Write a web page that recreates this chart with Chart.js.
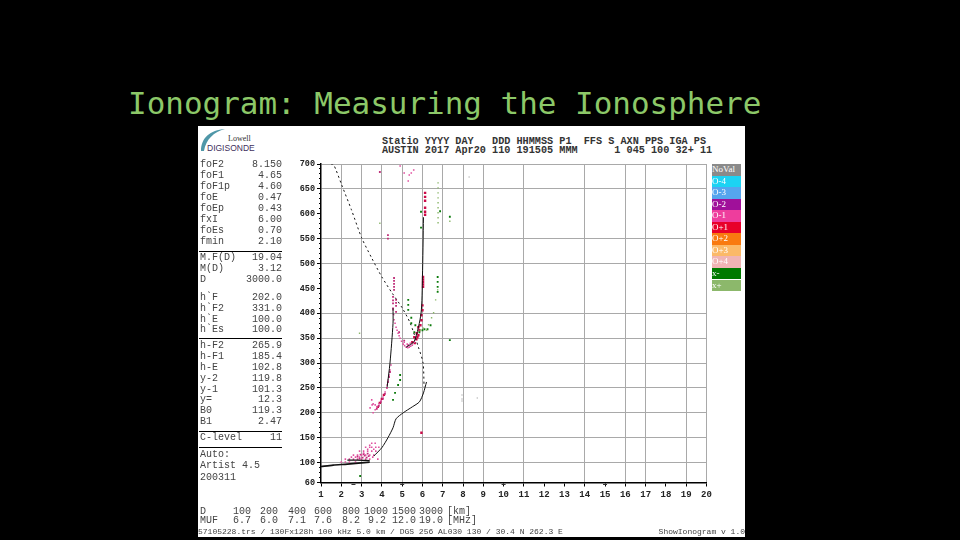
<!DOCTYPE html>
<html>
<head>
<meta charset="utf-8">
<script src="https://cdn.jsdelivr.net/npm/chart.js@4/dist/chart.umd.min.js"></script>
<style>
  html, body { margin: 0; background: #000; overflow: hidden; }
  #stage { position: relative; width: 960px; height: 540px; }
  #stage div, #stage pre { position: absolute; margin: 0; white-space: pre; }
  #title { left: 128px; top: 85px; font: 30.95px "DejaVu Sans Mono", monospace; color: #8cc868; }
  #panel { left: 198px; top: 126px; width: 547px; height: 411px; background: #fff; }
  #plot { position: absolute; left: 0; top: 0; }
  .t { font: 10px "Liberation Mono", monospace; color: #444; line-height: 10px; }
  .f { font: 8px "Liberation Mono", monospace; color: #444; line-height: 8px; }
  .rule { left: 199px; width: 83px; height: 1px; background: #000; }
  #head { left: 382px; top: 138px; font: 10.2px/8.5px "Liberation Mono", monospace; font-weight: bold; color: #333; }
  .lg { left: 712px; width: 29px; height: 11.5px; color: #fff; font: 9px/11.5px "Liberation Serif", serif; }
</style>
</head>
<body>
<div id="stage">
  <div id="title">Ionogram: Measuring the Ionosphere</div>
  <div id="panel"></div>
  <svg style="position:absolute;left:198px;top:126px" width="60" height="30">
    <path d="M3 25 C3 12 12 4 27 3 C16 6 8 13 6 25 Z" fill="#4f97a8"/>
  </svg>
  <div style="left:228px;top:134px;font:8px 'Liberation Serif',serif;color:#333">Lowell</div>
  <div style="left:207px;top:143px;font:8.5px 'Liberation Sans',sans-serif;color:#3f2f5c">DIGISONDE</div>
  <pre id="head">Statio YYYY DAY   DDD HHMMSS P1  FFS S AXN PPS IGA PS
AUSTIN 2017 Apr20 110 191505 MMM      1 045 100 32+ 11</pre>
  <canvas id="plot" width="960" height="540"></canvas>
</div>
<script>
const xTicks = [1, 2, 3, 4, 5, 6, 7, 8, 9, 10, 11, 12, 13, 14, 15, 16, 17, 18, 19, 20];
const xGrid = [2, 3, 4, 5, 6, 7, 8, 9, 11, 14, 16, 17, 19, 20];
const yTicks = [60, 100, 150, 200, 250, 300, 350, 400, 450, 500, 550, 600, 650, 700];
const yGrid = [100, 150, 200, 250, 300, 350, 400, 500, 550, 650, 700];
const yMinor = [70, 80, 90, 110, 120, 130, 140, 160, 170, 180, 190, 210, 220, 230, 240, 260, 270, 280, 290, 310, 320, 330, 340, 360, 370, 380, 390, 410, 420, 430, 440, 460, 470, 480, 490, 510, 520, 530, 540, 560, 570, 580, 590, 610, 620, 630, 640, 660, 670, 680, 690];

// traces as [MHz, km]
const oTraceModel = [[1.5, 700], [1.6, 700], [1.74, 688], [2.02, 658], [2.5, 608], [3, 552], [3.5, 511], [4, 473], [4.5, 441], [5, 411], [5.4, 380], [5.8, 332], [6.03, 300], [6.08, 252]];
const eLower = [[1, 92], [1.6, 95], [2.3, 97], [3.4, 101]];
const eUpper = [[2.3, 105], [2.8, 105], [3.4, 104]];
const f1Trace = [[3.6, 113], [4, 130], [4.3, 150], [4.55, 170], [4.7, 188], [5.05, 200], [5.5, 212], [5.85, 222], [6.05, 240], [6.2, 262]];
const f2Rise = [[4.26, 252], [4.4, 300], [4.55, 380], [4.55, 410]];
const f2Cusp = [[5.2, 332], [5.6, 344], [5.93, 400], [6, 473], [6.05, 593]];

const oMinus1 = [
  [4.55, 407], [4.58, 397], [4.6, 387], [4.65, 380], [4.7, 372], [4.75, 366], [4.8, 360], [4.85, 355], [4.9, 350], [4.97, 344], [5.05, 338], [5.12, 335], [5.2, 332], [5.28, 331], [5.35, 332], [5.42, 334], [5.5, 336], [5.6, 342], [5.25, 338], [5.4, 340], [5.1, 342],
  [3.57, 200], [3.67, 206], [3.76, 212], [3.86, 218], [3.96, 224], [4.06, 232], [4.16, 242], [4.26, 256], [4.31, 266], [4.36, 276], [4.4, 286], [4.45, 296],
  [3.42, 210], [3.52, 216], [3.57, 218], [3.67, 216], [3.5, 226],
  [3.5, 139], [3.67, 139],
  [3.2, 131], [3.4, 131], [3.5, 131], [3.7, 131], [3.85, 131],
  [2.9, 123], [3.1, 123], [3.3, 123], [3.5, 123], [3.7, 123],
  [2.6, 115], [2.8, 115], [3, 115], [3.2, 115], [3.4, 115], [3.6, 115],
  [2.2, 107], [2.4, 107], [2.6, 107], [2.8, 107], [3, 107], [3.2, 107], [3.4, 107], [3.8, 107],
  [2, 101], [2.2, 101], [2.4, 101], [2.7, 101], [3.6, 127], [3.4, 135], [2.5, 111], [2.7, 111], [2.9, 111], [3.1, 119], [3.3, 127], [3.55, 111],
  [5.57, 688], [5.45, 682], [5.35, 678], [5.1, 682], [5.3, 666], [4.9, 696]
];
const oMinus2 = [
  [2.8, 112], [2.95, 116], [3.05, 110], [3.15, 114], [3.3, 118], [3.25, 110], [2.9, 108], [3.1, 117], [3.35, 113],
  [4.6, 471], [4.6, 465], [4.6, 459], [4.6, 453], [4.6, 447], [4.55, 433], [4.55, 426], [4.55, 420], [4.55, 410], [4.7, 427], [4.7, 421], [4.7, 415], [4.7, 403],
  [3.9, 684], [4.3, 557], [4.3, 550], [3.75, 208], [3.85, 214], [3.95, 222], [4.05, 228], [4.15, 238], [4.25, 250], [4.3, 262], [4.35, 272], [4.4, 282],
  [4.85, 362], [5.1, 345], [5.3, 336]
];
const oPlus1 = [
  [5.62, 340], [5.7, 348], [5.75, 352], [5.8, 356], [5.85, 366], [5.9, 376], [5.95, 386], [5.95, 396], [6, 406], [6, 416], [5.5, 342], [5.6, 352], [5.72, 360], [5.8, 372],
  [3.8, 212], [3.9, 220], [4, 228], [4.1, 236],
  [6.13, 642], [6.13, 634], [6.13, 626], [6.13, 612], [6.13, 604], [6.13, 598],
  [6.03, 473], [6.03, 468], [6.03, 463], [6.03, 458], [6.03, 453], [5.95, 160]
];
const xMinus = [
  [5.3, 427], [5.3, 417], [5.3, 407], [5.45, 391], [5.45, 380], [5.6, 362], [5.65, 376], [5.85, 362], [6, 366], [6.1, 368], [6.25, 368], [6.4, 376],
  [6.75, 473], [6.75, 463], [6.75, 453], [6.75, 443], [4.9, 276], [4.9, 266], [4.8, 256], [4.65, 240], [4.55, 226], [7.35, 346], [7.35, 594], [5.93, 604], [5.93, 572], [6.87, 605], [2.93, 73]
];
const xPlus = [
  [5.9, 366], [6.05, 370], [6.2, 366], [6.3, 377], [6.45, 391], [6.55, 401], [6.65, 427], [6.75, 447],
  [6.77, 662], [6.77, 652], [6.77, 642], [6.77, 632], [6.77, 622], [6.77, 612], [6.77, 602], [6.77, 592], [6.77, 582], [7.35, 585], [3.9, 581], [2.9, 360]
];
const noVal = [[8.3, 674], [7.95, 236], [7.95, 228], [7.95, 224], [8.7, 230]];
const belowAxis = [[2.6, 56], [5, 56], [10, 56], [15, 56]];

const legendLabels = ['NoVal', 'O-4', 'O-3', 'O-2', 'O-1', 'O+1', 'O+2', 'O+3', 'O+4', 'x-', 'x+'];
const legendColors = ['#8a8a8a', '#1cd3f3', '#55a5ee', '#a0109a', '#ee3d9d', '#e8002a', '#f97a10', '#fbb968', '#f0b4b4', '#007a00', '#8cb86b'];

const scaledNames = ['foF2', 'foF1', 'foF1p', 'foE', 'foEp', 'fxI', 'foEs', 'fmin', 'M.F(D)', 'M(D)', 'D', "h`F", "h`F2", "h`E", "h`Es", 'h-F2', 'h-F1', 'h-E', 'y-2', 'y-1', 'y=', 'B0', 'B1', 'C-level'];
const scaledValues = ['8.150', '4.65', '4.60', '0.47', '0.43', '6.00', '0.70', '2.10', '19.04', '3.12', '3000.0', '202.0', '331.0', '100.0', '100.0', '265.9', '185.4', '102.8', '119.8', '101.3', '12.3', '119.3', '2.47', '11'];
const scaledRows = [165, 176, 187, 198, 209, 220, 231, 242, 258, 269, 280, 298, 309, 320, 330, 346, 357, 368, 379, 390, 400, 411, 422, 438];

const dKm = ['100', '200', '400', '600', '800', '1000', '1500', '3000', '[km]'];
const mufMHz = ['6.7', '6.0', '7.1', '7.6', '8.2', '9.2', '12.0', '19.0', '[MHz]'];
const dColumns = [233, 260, 288, 314, 342, 364, 392, 419, 447];
const mufColumns = [233, 260, 288, 314, 342, 368, 392, 419, 447];

const stage = document.getElementById('stage');
function addText(cls, text, left, top, right) {
  const el = document.createElement('div');
  el.className = cls;
  el.textContent = text;
  if (right) el.style.right = (960 - right) + 'px'; else el.style.left = left + 'px';
  el.style.top = top + 'px';
  stage.appendChild(el);
  return el;
}

scaledNames.forEach((n, i) => {
  addText('t', n, 200, scaledRows[i] - 5);
  addText('t', scaledValues[i], 0, scaledRows[i] - 5, 282);
});
['Auto:', 'Artist 4.5', '200311'].forEach((s, i) => addText('t', s, 200, [455, 466, 478][i] - 5));
[251, 338, 431, 447].forEach(y => addText('rule', '', 199, y));
addText('t', 'D', 200, 507);
addText('t', 'MUF', 200, 516);
dKm.forEach((s, i) => addText('t', s, dColumns[i], 507));
mufMHz.forEach((s, i) => addText('t', s, mufColumns[i], 516));
addText('f', '57105228.trs / 130Fx128h 100 kHz 5.0 km / DGS 256 AL030 130 / 30.4 N 262.3 E', 198, 528);
addText('f', 'ShowIonogram v 1.0', 0, 528, 745);

legendLabels.forEach((s, i) => {
  const el = addText('lg', s, 712, 164 + i * 11.55);
  el.style.background = legendColors[i];
});

const pts = a => a.map(([x, y]) => ({ x, y }));
const line = (data, width, dash) => ({ data: pts(data), showLine: true, pointRadius: 0, borderColor: '#111', borderWidth: width, borderDash: dash || [], tension: 0.25 });
const dots = (data, color, r) => ({ data: pts(data), showLine: false, pointStyle: 'rect', pointRadius: r, pointBorderWidth: 0, backgroundColor: color });

new Chart(document.getElementById('plot'), {
  type: 'scatter',
  data: {
    datasets: [
      dots(xPlus, '#8cb86b', 1),
      dots(xMinus, '#0a7a0a', 1.3),
      dots(noVal, '#8a8a8a', 0.7),
      line(oTraceModel, 1, [2, 3]),
      line(eLower, 1.6),
      line(eUpper, 1.2),
      line(f1Trace, 1),
      line(f2Rise, 1),
      line(f2Cusp, 1),
      dots(oMinus1, '#e0509f', 1.1),
      dots(oMinus2, '#c0307a', 1.3),
      dots(oPlus1, '#cc0a48', 1.7),
      { data: pts(belowAxis), showLine: false, pointStyle: 'line', pointRadius: 2, borderColor: '#333', borderWidth: 1, clip: false }
    ]
  },
  options: {
    responsive: false,
    animation: false,
    layout: { padding: { top: 164, right: 253.5, bottom: 0, left: 0 } },
    plugins: { legend: { display: false }, tooltip: { enabled: false } },
    scales: {
      x: {
        type: 'linear', min: 1, max: 20,
        afterBuildTicks: s => { s.ticks = xTicks.map(value => ({ value })); },
        afterFit: s => { s.height = 57.5; },
        border: { color: '#000', width: 1.5 },
        grid: {
          color: c => xGrid.includes(c.tick.value) ? '#a9a9a9' : 'transparent',
          tickColor: '#000', tickLength: 4
        },
        ticks: { color: '#222', font: { family: 'Liberation Mono', weight: 'bold', size: 9 }, padding: 3, maxRotation: 0, autoSkip: false }
      },
      y: {
        type: 'linear', min: 60, max: 700,
        afterBuildTicks: s => { s.ticks = yTicks.map(value => ({ value })); },
        afterFit: s => { s.width = 321; },
        border: { color: '#000', width: 1.5 },
        grid: {
          color: c => yGrid.includes(c.tick.value) ? '#a9a9a9' : 'transparent',
          tickColor: '#000', tickLength: 4
        },
        ticks: { color: '#222', font: { family: 'Liberation Mono', weight: 'bold', size: 8.5 }, padding: 2, autoSkip: false }
      },
      // short 10 km marks between the labelled heights, weight keeps it next to the plot
      yMinorMarks: {
        type: 'linear', position: 'left', min: 60, max: 700, weight: -1,
        afterBuildTicks: s => { s.ticks = yMinor.map(value => ({ value })); },
        afterFit: s => { s.width = 0; },
        border: { display: false },
        grid: { drawOnChartArea: false, tickColor: '#000', tickLength: 2 },
        ticks: { display: false }
      }
    }
  }
});
</script>
</body>
</html>
